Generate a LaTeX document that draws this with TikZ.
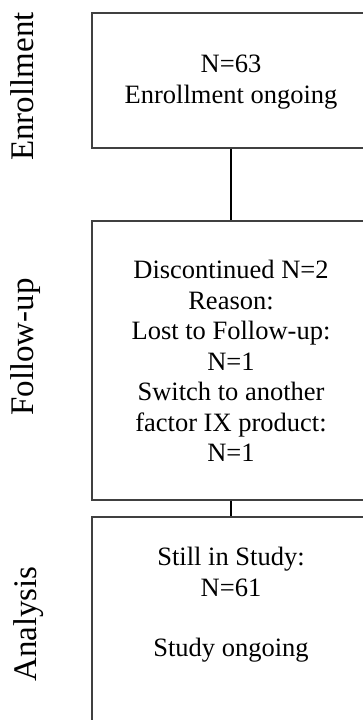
\documentclass[tikz,border=0pt]{standalone}
\usepackage{fontspec}
\setmainfont{Liberation Serif}
\begin{document}
\begin{tikzpicture}[x=1pt,y=-1pt,
  stagebox/.style={draw=black!75,line width=1.1pt,minimum width=278pt,inner sep=0pt},
  boxtext/.style={align=center,font=\fontsize{26.5}{30.5}\selectfont,inner sep=0pt},
  sidelabel/.style={rotate=90,anchor=base,font=\fontsize{33}{36}\selectfont,inner sep=0pt},
  link/.style={draw=black,line width=1.4pt}]
\useasboundingbox (0,0) rectangle (363,720);
\clip (0,0) rectangle (363,720);
% boxes
\node[stagebox,minimum height=135pt] (b1) at (231,80.5) {};
\node[stagebox,minimum height=279pt] (b2) at (231,360.5) {};
\node[stagebox,minimum height=280pt] (b3) at (231,657) {};
% texts
\node[boxtext] (t1) at (231,82) {N=63\\Enrollment ongoing};
\node[boxtext] (t2) at (231,361) {Discontinued N=2\\Reason:\\Lost to Follow-up:\\N=1\\Switch to another\\factor IX product:\\N=1};
\node[boxtext] (t3) at (231,605) {Still in Study:\\N=61\\[30pt]Study ongoing};
% side labels
\node[sidelabel] (s1) at (33,86.5) {Enrollment};
\node[sidelabel] (s2) at (33,347) {Follow-up};
\node[sidelabel] (s3) at (36,624) {Analysis};
% connectors
\draw[link] (b1.south) -- (b2.north);
\draw[link] (b2.south) -- (b3.north);
\end{tikzpicture}
\end{document}
